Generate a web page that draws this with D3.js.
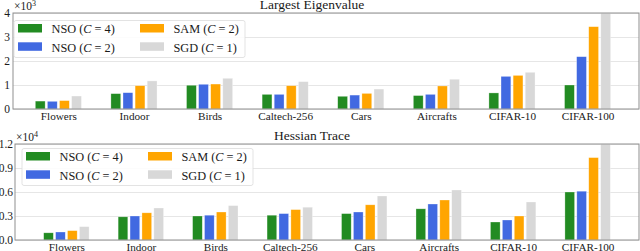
<!DOCTYPE html>
<html>
<head>
<meta charset="utf-8">
<script src="https://cdn.jsdelivr.net/npm/d3@7"></script>
<style>
  body { margin: 0; background: #fff; }
  svg { display: block; }
</style>
</head>
<body>
<div class="chart"></div>
<script>
// dataset names along the x axis
var categories = ["Flowers", "Indoor", "Birds", "Caltech-256", "Cars", "Aircrafts", "CIFAR-10", "CIFAR-100"];

// legend entries and colours (same order as the bars inside a group)
var seriesNames = [["NSO", "4"], ["NSO", "2"], ["SAM", "2"], ["SGD", "1"]];
var seriesColors = ["#228b22", "#4169e1", "#ffa500", "#d8d8d8"];

// largest eigenvalue, in units of 10^3
var eigNSO4 = [0.33, 0.64, 0.99, 0.61, 0.53, 0.56, 0.67, 1.00];
var eigNSO2 = [0.32, 0.68, 1.03, 0.61, 0.58, 0.61, 1.36, 2.18];
var eigSAM = [0.35, 0.97, 1.04, 0.97, 0.65, 0.96, 1.40, 3.43];
var eigSGD = [0.54, 1.17, 1.28, 1.14, 0.83, 1.24, 1.53, 4.00];
var eigTicks = [0, 1, 2, 3, 4];

// hessian trace, in units of 10^4
var traceNSO4 = [0.09, 0.29, 0.30, 0.31, 0.33, 0.39, 0.225, 0.60];
var traceNSO2 = [0.10, 0.30, 0.31, 0.33, 0.35, 0.45, 0.25, 0.61];
var traceSAM = [0.117, 0.34, 0.35, 0.38, 0.44, 0.50, 0.30, 1.03];
var traceSGD = [0.167, 0.40, 0.43, 0.41, 0.55, 0.625, 0.475, 1.20];
var traceTicks = [0, 0.3, 0.6, 0.9, 1.2];

var FONT = '"Liberation Serif"';

// small helper so every text gets the same serif face
function serif(sel, size) {
    return sel.attr("font-family", "Liberation Serif")
        .style("font-family", FONT)
        .attr("font-size", size)
        .style("font-size", size + "px")
        .attr("fill", "#1a1a1a");
}

function drawPanel(svg, opt) {
    var x = d3.scaleLinear().domain(opt.xDomain).range([opt.left, opt.right]);
    var y = d3.scaleLinear().domain([0, opt.yMax]).range([opt.bottom, opt.top]);
    var width = opt.right - opt.left;

    var g = svg.append("g");

    // clip so the tallest bar stops at the frame
    var clipId = "clip-" + opt.id;
    svg.append("clipPath").attr("id", clipId)
        .append("rect")
        .attr("x", opt.left).attr("y", opt.top)
        .attr("width", width).attr("height", opt.bottom - opt.top);

    // y axis with gridlines
    var leftAxis = d3.axisLeft(y)
        .tickValues(opt.ticks)
        .tickFormat(opt.tickFormat)
        .tickSizeInner(-width)
        .tickSizeOuter(0)
        .tickPadding(opt.tickPad);
    var yAxis = g.append("g")
        .attr("transform", `translate(${opt.left},0)`)
        .call(leftAxis);
    yAxis.attr("font-family", null);
    yAxis.select(".domain").remove();
    yAxis.selectAll("line").attr("stroke", "#e6e6e6").attr("stroke-width", 1);
    serif(yAxis.selectAll("text"), 11.5);

    // bars
    var series = opt.series;
    var step = 0.16, bw = 0.13;
    var bars = g.append("g").attr("clip-path", `url(#${clipId})`);
    series.forEach(function(vals, s) {
        bars.selectAll(null)
            .data(vals)
            .enter()
            .append("rect")
            .attr("x", (d, i) => x(i + (s - 1.5) * step - bw / 2))
            .attr("width", (d, i) => x(bw) - x(0))
            .attr("y", d => y(d))
            .attr("height", d => y(0) - y(d))
            .attr("fill", seriesColors[s])
            .attr("stroke", "#fff")
            .attr("stroke-opacity", 0.5)
            .attr("stroke-width", 0.6);
    });

    // x axis labels
    var bottomAxis = d3.axisBottom(x)
        .tickValues(d3.range(categories.length))
        .tickFormat(i => categories[i])
        .tickSize(0)
        .tickPadding(3);
    var xAxis = g.append("g")
        .attr("transform", `translate(0,${opt.bottom})`)
        .call(bottomAxis);
    xAxis.attr("font-family", null);
    xAxis.select(".domain").remove();
    serif(xAxis.selectAll("text"), 11.2);

    // frame
    g.append("rect")
        .attr("x", opt.left).attr("y", opt.top)
        .attr("width", width).attr("height", opt.bottom - opt.top)
        .attr("fill", "none")
        .attr("stroke", "#8f8f8f")
        .attr("stroke-width", 1);

    // multiplier above the axis
    var mult = serif(g.append("text"), 11.5)
        .attr("x", opt.left + 1)
        .attr("y", opt.top - 3);
    mult.append("tspan").text("\u00d710");
    mult.append("tspan").style("font-size", "8px").attr("dy", -4.5).text(opt.exponent);

    // title
    serif(g.append("text"), 13.5)
        .attr("x", 312)
        .attr("y", opt.top - 4)
        .attr("text-anchor", "middle")
        .text(opt.title);

    // legend
    var lg = g.append("g").attr("transform", `translate(${opt.legX},${opt.legY})`);
    lg.append("rect")
        .attr("x", 0).attr("y", 0)
        .attr("width", 231).attr("height", 37)
        .attr("rx", 2)
        .attr("fill", "#fff").attr("fill-opacity", 0.85)
        .attr("stroke", "#dcdcdc").attr("stroke-width", 0.8);
    seriesNames.forEach(function(nm, s) {
        var col = Math.floor(s / 2), row = s % 2;
        var px = 4 + col * 122, py = 3.5 + row * 18.3;
        lg.append("rect")
            .attr("x", px).attr("y", py)
            .attr("width", 24).attr("height", 8.5)
            .attr("fill", seriesColors[s]);
        var t = serif(lg.append("text"), 12.3)
            .attr("x", px + 33.5)
            .attr("y", py + 9.2);
        t.append("tspan").text(nm[0] + " (");
        t.append("tspan").style("font-style", "italic").text("C");
        t.append("tspan").text(" = " + nm[1] + ")");
    });
}

function makeChart() {
    var svg = d3.select(".chart")
        .append("svg")
        .attr("width", 640)
        .attr("height", 251);

    drawPanel(svg, {
        id: "eig",
        title: "Largest Eigenvalue",
        series: [eigNSO4, eigNSO2, eigSAM, eigSGD],
        ticks: eigTicks,
        tickFormat: d3.format("d"),
        exponent: "3",
        yMax: 4,
        xDomain: [-0.6, 7.68],
        left: 13, right: 639, top: 13, bottom: 109,
        tickPad: 3,
        legX: 14, legY: 20.5
    });

    drawPanel(svg, {
        id: "trace",
        title: "Hessian Trace",
        series: [traceNSO4, traceNSO2, traceSAM, traceSGD],
        ticks: traceTicks,
        tickFormat: d3.format(".1f"),
        exponent: "4",
        yMax: 1.2,
        xDomain: [-0.69, 7.69],
        left: 15, right: 639, top: 144, bottom: 240,
        tickPad: 2,
        legX: 22, legY: 148.5
    });
}

makeChart();
</script>
</body>
</html>
